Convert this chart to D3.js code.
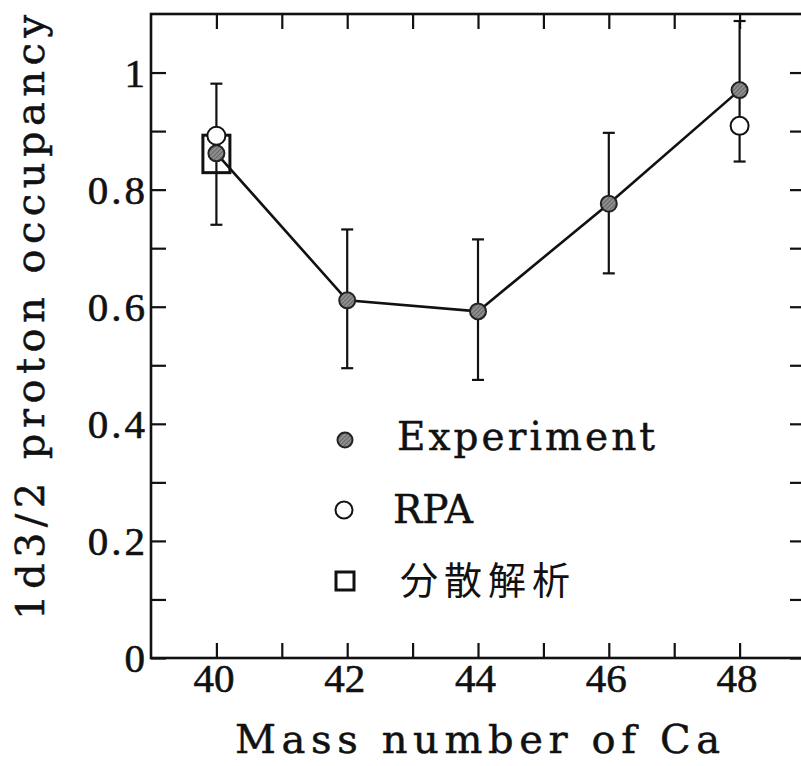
<!DOCTYPE html>
<html>
<head>
<meta charset="utf-8">
<script src="https://cdn.jsdelivr.net/npm/d3@7"></script>
<style>
  html, body { margin: 0; padding: 0; background: #fff; }
  svg { display: block; }
</style>
</head>
<body>
<svg id="chart" width="801" height="766"></svg>
<script>
// ---- data ----
const massNumbers = [40, 42, 44, 46, 48];
const expValues   = [0.862, 0.611, 0.592, 0.776, 0.970];
const expErrLow   = [0.740, 0.495, 0.475, 0.657, 0.848];
const expErrHigh  = [0.981, 0.732, 0.715, 0.897, 1.088];
const rpaMass     = [40, 48];
const rpaValues   = [0.892, 0.909];
const dispMass    = [40];
const dispValues  = [0.861];
const dispErr     = [0.032];
const xTicks      = [40, 41, 42, 43, 44, 45, 46, 47, 48];
const xTickLabels = ["40", "", "42", "", "44", "", "46", "", "48"];
const yTicks      = [0, 0.1, 0.2, 0.3, 0.4, 0.5, 0.6, 0.7, 0.8, 0.9, 1.0];
const yTickLabels = ["0", "", "0.2", "", "0.4", "", "0.6", "", "0.8", "", "1"];
const legendLabels = ["Experiment", "RPA", "分散解析"];
const xTitle = "Mass number of Ca";
const yTitle = "1d3/2 proton occupancy";

// ---- layout ----
const svg = d3.select("#chart");
const plotL = 151, plotR = 805, plotT = 14, plotB = 658;
const x = d3.scaleLinear().domain([39, 49]).range([plotL, plotR]);
const y = d3.scaleLinear().domain([0, 1.1]).range([plotB, plotT]);
const tickLen = 15;
const numFont = "'Liberation Serif', 'Times New Roman', serif";
const typeFont = "'DejaVu Serif', serif";

// axes
const axBottom = d3.axisBottom(x).tickValues(xTicks)
  .tickFormat((d, i) => xTickLabels[i]).tickSizeInner(-tickLen).tickSizeOuter(0).tickPadding(5);
const axTop = d3.axisTop(x).tickValues(xTicks).tickFormat("").tickSizeInner(-tickLen).tickSizeOuter(0);
const axLeft = d3.axisLeft(y).tickValues(yTicks)
  .tickFormat((d, i) => yTickLabels[i]).tickSizeInner(-tickLen).tickSizeOuter(0).tickPadding(6);
const axRight = d3.axisRight(y).tickValues(yTicks).tickFormat("").tickSizeInner(-tickLen).tickSizeOuter(0);

function styleAxis(g) {
  g.select(".domain").remove();
  g.selectAll(".tick line").attr("stroke", "#111").attr("stroke-width", 2.2);
  g.selectAll(".tick text").attr("fill", "#111").attr("stroke", "#111").attr("stroke-width", 0.6)
    .style("font-family", numFont).style("font-size", "41px");
}
svg.append("g").attr("transform", `translate(0,${plotB})`).call(axBottom).call(styleAxis)
  .selectAll(".tick text").attr("dx", "-3");
svg.append("g").attr("transform", `translate(0,${plotT})`).call(axTop).call(styleAxis);
svg.append("g").attr("transform", `translate(${plotL},0)`).call(axLeft).call(styleAxis)
  .selectAll(".tick text").style("letter-spacing", "3px").attr("dx", "3").attr("dy", "0.34em");
svg.append("g").attr("transform", `translate(${plotR},0)`).call(axRight).call(styleAxis);

// frame
svg.append("rect").attr("x", plotL).attr("y", plotT)
  .attr("width", plotR - plotL).attr("height", plotB - plotT)
  .attr("fill", "none").attr("stroke", "#111").attr("stroke-width", 2.6);

// dispersion-analysis box
const boxW = 27;
svg.selectAll("rect.disp").data(dispMass).enter().append("rect")
  .attr("class", "disp")
  .attr("x", (d) => x(d) - boxW / 2)
  .attr("y", (d, i) => y(dispValues[i] + dispErr[i]))
  .attr("width", boxW)
  .attr("height", (d, i) => y(dispValues[i] - dispErr[i]) - y(dispValues[i] + dispErr[i]))
  .attr("fill", "none").attr("stroke", "#111").attr("stroke-width", 3);

// error bars
const capW = 12;
const eb = svg.append("g").attr("stroke", "#111").attr("stroke-width", 2.2);
massNumbers.forEach((m, i) => {
  eb.append("line").attr("x1", x(m)).attr("x2", x(m)).attr("y1", y(expErrLow[i])).attr("y2", y(expErrHigh[i]));
  eb.append("line").attr("x1", x(m) - capW / 2).attr("x2", x(m) + capW / 2).attr("y1", y(expErrLow[i])).attr("y2", y(expErrLow[i]));
  eb.append("line").attr("x1", x(m) - capW / 2).attr("x2", x(m) + capW / 2).attr("y1", y(expErrHigh[i])).attr("y2", y(expErrHigh[i]));
});

// connecting line
const line = d3.line().x((d) => x(d[0])).y((d) => y(d[1]));
svg.append("path").datum(massNumbers.map((m, i) => [m, expValues[i]]))
  .attr("d", line).attr("fill", "none").attr("stroke", "#111").attr("stroke-width", 2.6);

// hatch pattern for experiment markers
const defs = svg.append("defs");
const pat = defs.append("pattern").attr("id", "hatch").attr("patternUnits", "userSpaceOnUse")
  .attr("width", 3).attr("height", 3).attr("patternTransform", "rotate(45)");
pat.append("rect").attr("width", 3).attr("height", 3).attr("fill", "#8e8e8e");
pat.append("line").attr("x1", 0).attr("y1", 0).attr("x2", 0).attr("y2", 3)
  .attr("stroke", "#4a4a4a").attr("stroke-width", 1.2);

// RPA circles
svg.selectAll("circle.rpa").data(rpaMass).enter().append("circle")
  .attr("class", "rpa").attr("cx", (d) => x(d)).attr("cy", (d, i) => y(rpaValues[i]))
  .attr("r", 9).attr("fill", "#fff").attr("stroke", "#111").attr("stroke-width", 2);

// Experiment markers
svg.selectAll("circle.exp").data(massNumbers).enter().append("circle")
  .attr("class", "exp").attr("cx", (d) => x(d)).attr("cy", (d, i) => y(expValues[i]))
  .attr("r", 8).attr("fill", "url(#hatch)").attr("stroke", "#222").attr("stroke-width", 2);

// legend
const lg = svg.append("g");
function typeText(sel, size, len) {
  sel.style("font-family", typeFont).style("font-size", size + "px").attr("fill", "#111")
    .attr("stroke", "#111").attr("stroke-width", 0.5)
    .attr("textLength", len).attr("lengthAdjust", "spacing");
}
lg.append("circle").attr("cx", 345).attr("cy", 440).attr("r", 7.5)
  .attr("fill", "url(#hatch)").attr("stroke", "#222").attr("stroke-width", 2);
lg.append("text").attr("x", 397).attr("y", 450).text(legendLabels[0]).call(typeText, 39, 258);
lg.append("circle").attr("cx", 344).attr("cy", 510).attr("r", 8.5)
  .attr("fill", "#fff").attr("stroke", "#111").attr("stroke-width", 2);
lg.append("text").attr("x", 393).attr("y", 523).text(legendLabels[1]).call(typeText, 39, 80);
lg.append("rect").attr("x", 336).attr("y", 572).attr("width", 18).attr("height", 18)
  .attr("fill", "none").attr("stroke", "#111").attr("stroke-width", 3);
lg.append("text").attr("x", 400).attr("y", 594).text(legendLabels[2])
  .style("font-family", "'Noto Sans CJK JP', 'Noto Sans CJK SC', sans-serif")
  .style("font-size", "38px").style("letter-spacing", "6px").attr("fill", "#111");

// axis titles
svg.append("text").attr("x", 235).attr("y", 753).text(xTitle).call(typeText, 40, 485);
svg.append("text").attr("transform", "translate(44,620) rotate(-90)")
  .text(yTitle).call(typeText, 40, 605);
</script>
</body>
</html>
